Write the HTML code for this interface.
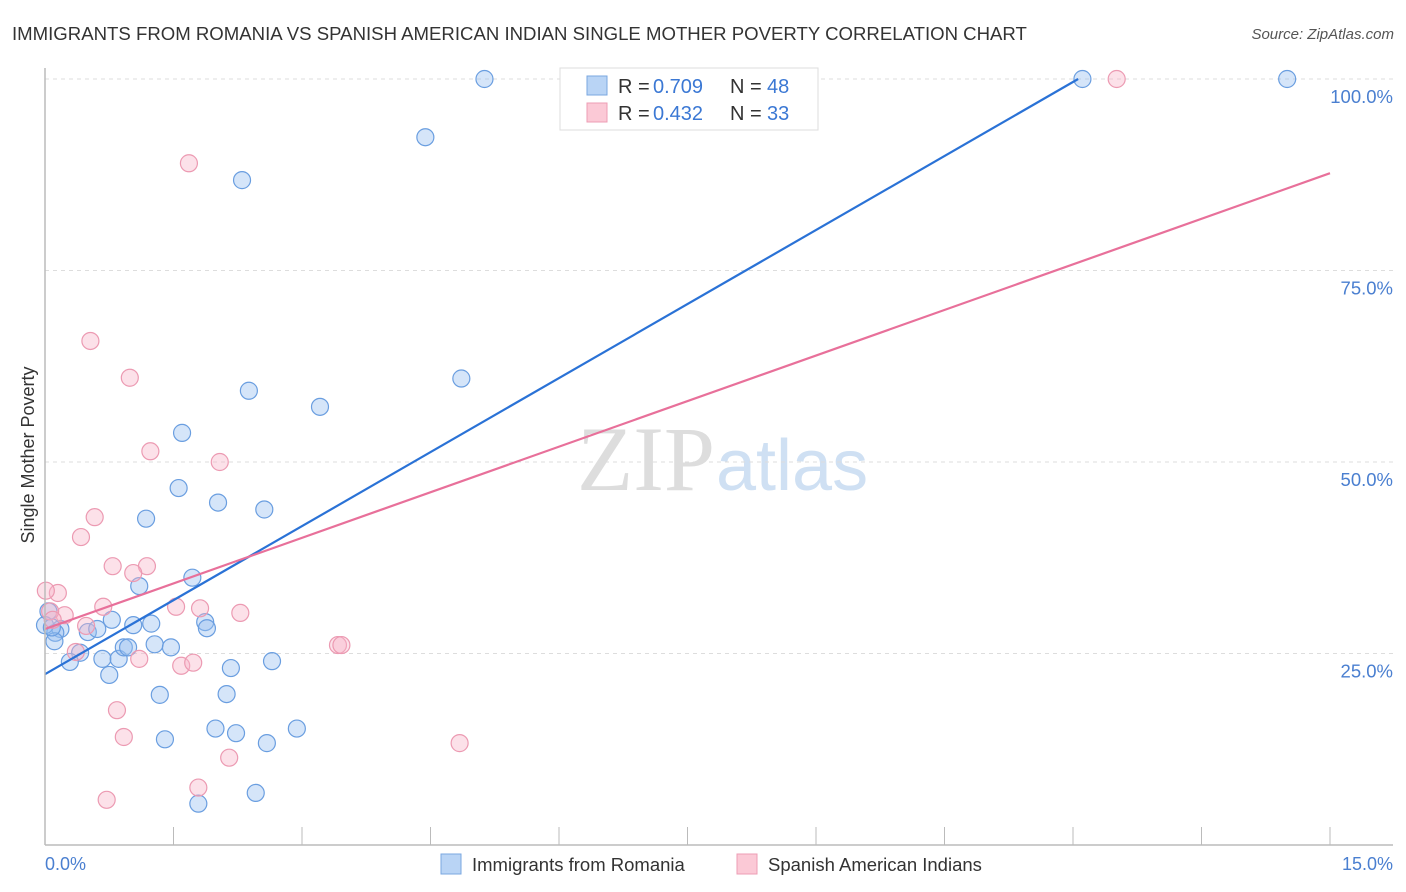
<!DOCTYPE html>
<html><head><meta charset="utf-8"><style>
body{margin:0;background:#fff;font-family:"Liberation Sans",sans-serif}
svg{display:block}
</style></head><body>
<svg id="c" width="1406" height="892">
<text x="12" y="40" font-size="18.6" fill="#333">IMMIGRANTS FROM ROMANIA VS SPANISH AMERICAN INDIAN SINGLE MOTHER POVERTY CORRELATION CHART</text>
<text x="1394" y="39" font-size="15" fill="#555" font-style="italic" text-anchor="end">Source: ZipAtlas.com</text>
<text x="0" y="0" transform="translate(34,455) rotate(-90)" font-size="18" fill="#333" text-anchor="middle">Single Mother Poverty</text>
<text x="715" y="490" font-size="92" fill="#ddd" text-anchor="end" font-family="Liberation Serif">ZIP</text>
<text x="716" y="490" font-size="72" fill="#cfe0f3">atlas</text>
<g id="grid"></g><g id="pts"></g><g id="lines"></g>
<line x1="45" y1="845" x2="1393" y2="845" stroke="#bbb" stroke-width="1.5"/>
<line x1="45" y1="68" x2="45" y2="845" stroke="#bbb" stroke-width="1.5"/>
<text x="45" y="870" font-size="18" fill="#4a7fd0">0.0%</text>
<text x="1393" y="870" font-size="18" fill="#4a7fd0" text-anchor="end">15.0%</text>
<g>
<rect x="560" y="68" width="258" height="62" fill="#fff" stroke="#ddd"/>
<rect x="587" y="76" width="20" height="19" fill="#b9d4f5" stroke="#7aa7e0"/>
<rect x="587" y="103" width="20" height="19" fill="#fbc9d6" stroke="#ee9db4"/>
<text y="93" font-size="20" fill="#333"><tspan x="618">R =</tspan><tspan x="653" fill="#3b78d4">0.709</tspan><tspan x="730">N =</tspan><tspan x="767" fill="#3b78d4">48</tspan></text>
<text y="120" font-size="20" fill="#333"><tspan x="618">R =</tspan><tspan x="653" fill="#3b78d4">0.432</tspan><tspan x="730">N =</tspan><tspan x="767" fill="#3b78d4">33</tspan></text>
</g>
<g>
<rect x="441" y="854" width="20" height="20" fill="#b9d4f5" stroke="#7aa7e0"/>
<text x="472" y="871" font-size="18.5" fill="#333">Immigrants from Romania</text>
<rect x="737" y="854" width="20" height="20" fill="#fbc9d6" stroke="#ee9db4"/>
<text x="768" y="871" font-size="18.5" fill="#333">Spanish American Indians</text>
</g>
</svg>
<script>
const yTicks=[25,50,75,100];
const yTickLabels=["25.0%","50.0%","75.0%","100.0%"];
const xTicks=[0,1.5,3,4.5,6,7.5,9,10.5,12,13.5,15];
const blueX=[5.13,12.11,14.5,4.44,2.3,4.86,2.38,3.21,1.6,1.56,2.02,2.56,1.18,1.72,1.1,0.78,1.03,1.24,1.87,1.89,0.18,0.5,0.61,0.12,0.11,0.41,0.29,0.67,0.86,0.92,0.97,1.28,1.47,0.75,2.17,2.65,1.34,2.12,1.99,2.23,2.94,1.4,2.59,2.46,1.79,0.04,0.0,0.08];
const blueY=[100,100,100,92.4,86.8,60.9,59.3,57.2,53.8,46.6,44.7,43.8,42.6,34.9,33.8,29.4,28.7,28.9,29.1,28.3,28.2,27.8,28.2,27.7,26.6,25.1,23.9,24.3,24.3,25.8,25.8,26.2,25.8,22.2,23.1,24.0,19.6,19.7,15.2,14.6,15.2,13.8,13.3,6.8,5.4,30.5,28.7,28.4];
const pinkX=[12.51,1.68,0.53,0.99,1.23,2.04,0.58,0.42,0.79,1.19,1.03,0.15,0.01,0.68,1.53,1.81,2.28,0.23,0.06,0.09,0.48,3.42,3.46,0.36,1.1,1.59,1.73,0.84,0.92,4.84,2.15,1.79,0.72];
const pinkY=[100,89,65.8,61,51.4,50,42.8,40.2,36.4,36.4,35.5,32.9,33.2,31.1,31.1,30.9,30.3,30,30.5,29.4,28.6,26.1,26.1,25.2,24.3,23.4,23.8,17.6,14.1,13.3,11.4,7.5,5.9];
const blueLine=[[0,22.3],[12.06,100]];
const pinkLine=[[0,28.2],[15,87.7]];
const NS="http://www.w3.org/2000/svg";
const xs=v=>45+v*(1285/15), ys=v=>845-v*7.66;
function mk(t,a,p){const e=document.createElementNS(NS,t);for(const k in a)e.setAttribute(k,a[k]);p.appendChild(e);return e;}
const grid=document.getElementById('grid'),pts=document.getElementById('pts'),lines=document.getElementById('lines');
yTicks.forEach((t,i)=>{
 const l=mk('line',{x1:45,x2:1393,y1:ys(t),y2:ys(t),stroke:'#ddd','stroke-dasharray':'4,4'},grid);
 
 
 const tx=mk('text',{x:1393,y:ys(t)+24,'font-size':18.5,fill:'#4a7fd0','text-anchor':'end'},grid);
 tx.textContent=yTickLabels[i];
 
 
});
xTicks.forEach(t=>{
 const l=mk('line',{x1:xs(t),x2:xs(t),y1:827,y2:845,stroke:'#bbb'},grid);
 
 
});
blueX.forEach((v,i)=>{
 const c=mk('circle',{cx:xs(v),cy:ys(blueY[i]),r:8.5,fill:'rgba(150,190,240,0.4)',stroke:'#6a9ee0','stroke-width':1.2},pts);
 
 
});
pinkX.forEach((v,i)=>{
 const c=mk('circle',{cx:xs(v),cy:ys(pinkY[i]),r:8.5,fill:'rgba(248,180,200,0.4)',stroke:'#ec9ab2','stroke-width':1.2},pts);
 
 
});
const bl=mk('line',{x1:xs(blueLine[0][0]),y1:ys(blueLine[0][1]),x2:xs(blueLine[1][0]),y2:ys(blueLine[1][1]),stroke:'#2a72d6','stroke-width':2.2},lines);


const pl=mk('line',{x1:xs(pinkLine[0][0]),y1:ys(pinkLine[0][1]),x2:xs(pinkLine[1][0]),y2:ys(pinkLine[1][1]),stroke:'#e8709a','stroke-width':2.2},lines);


</script>
</body></html>
